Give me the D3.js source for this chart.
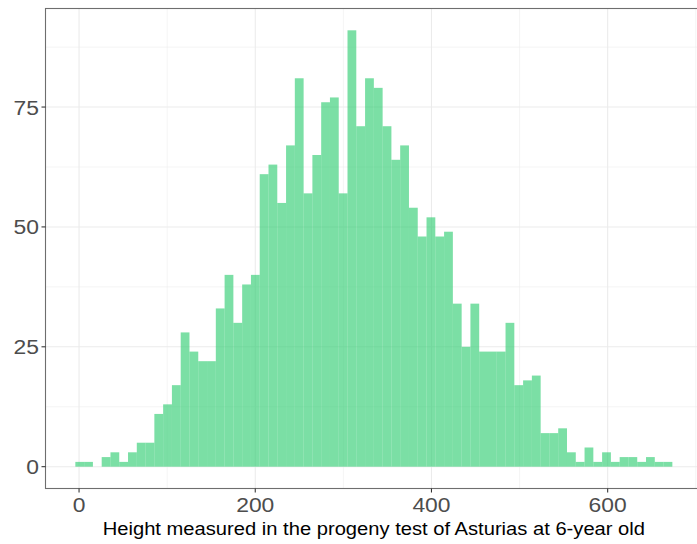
<!DOCTYPE html>
<html>
<head>
<meta charset="utf-8">
<script src="https://cdn.jsdelivr.net/npm/d3@7"></script>
<style>
  html, body { margin: 0; padding: 0; background: #ffffff; }
  svg { display: block; }
  text { font-family: "Liberation Sans", Arial, Helvetica, sans-serif; }
</style>
</head>
<body>
<svg id="chart" width="697" height="544"></svg>
<script>
// ---- data ----
const binStart = -4.2;
const binWidth = 9.965;
const counts = [1, 1, 0, 2, 3, 1, 3, 5, 5, 11,
                13, 17, 28, 24, 22, 22, 33, 40, 30, 38,
                40, 61, 63, 55, 67, 81, 57, 65, 76, 77,
                57, 91, 71, 81, 79, 71, 64, 67, 54, 48,
                52, 48, 49, 34, 25, 34, 24, 24, 24, 30,
                17, 18, 19, 7, 7, 8, 3, 1, 4, 1,
                3, 1, 2, 2, 1, 2, 1, 1];
const xTicks = [0, 200, 400, 600];
const xMinor = [100, 300, 500, 700];
const yTicks = [0, 25, 50, 75];
const yMinor = [12.5, 37.5, 62.5, 87.5];
const xTitle = "Height measured in the progeny test of Asturias at 6-year old";

const bins = counts.map((c, i) => ({
  x0: binStart + i * binWidth,
  x1: binStart + (i + 1) * binWidth,
  count: c
}));

// ---- layout ----
const svg = d3.select("#chart");
const panel = { left: 45.5, right: 702.2, top: 8.5, bottom: 488.5 };
const stretch = 1.09; // horizontal text stretch seen in the reference

const dataMin = d3.min(bins, d => d.x0);
const dataMax = d3.max(bins, d => d.x1);
const xPad = (dataMax - dataMin) * 0.05;
const x = d3.scaleLinear()
  .domain([dataMin - xPad, dataMax + xPad])
  .range([panel.left, panel.right]);

const yMax = d3.max(counts);
const yPad = yMax * 0.05;
const y = d3.scaleLinear()
  .domain([-yPad, yMax + yPad])
  .range([panel.bottom, panel.top]);

svg.append("rect").attr("width", 697).attr("height", 544).attr("fill", "#ffffff");

const clipId = "panelClip";
svg.append("clipPath").attr("id", clipId)
  .append("rect")
  .attr("x", panel.left).attr("y", panel.top)
  .attr("width", panel.right - panel.left).attr("height", panel.bottom - panel.top);

const g = svg.append("g").attr("clip-path", `url(#${clipId})`);

// minor grid
g.selectAll("line.ymin").data(yMinor).enter().append("line")
  .attr("x1", panel.left).attr("x2", panel.right)
  .attr("y1", d => y(d)).attr("y2", d => y(d))
  .attr("stroke", "#ebebeb").attr("stroke-width", 0.55);
g.selectAll("line.xmin").data(xMinor).enter().append("line")
  .attr("y1", panel.top).attr("y2", panel.bottom)
  .attr("x1", d => x(d)).attr("x2", d => x(d))
  .attr("stroke", "#ebebeb").attr("stroke-width", 0.55);
// major grid
g.selectAll("line.ymaj").data(yTicks).enter().append("line")
  .attr("x1", panel.left).attr("x2", panel.right)
  .attr("y1", d => y(d)).attr("y2", d => y(d))
  .attr("stroke", "#ebebeb").attr("stroke-width", 1.07);
g.selectAll("line.xmaj").data(xTicks).enter().append("line")
  .attr("y1", panel.top).attr("y2", panel.bottom)
  .attr("x1", d => x(d)).attr("x2", d => x(d))
  .attr("stroke", "#ebebeb").attr("stroke-width", 1.07);

// bars
g.selectAll("rect.bar").data(bins.filter(d => d.count > 0)).enter().append("rect")
  .attr("class", "bar")
  .attr("x", d => x(d.x0))
  .attr("width", d => x(d.x1) - x(d.x0))
  .attr("y", d => y(d.count))
  .attr("height", d => y(0) - y(d.count))
  .attr("fill", "#2ecc71")
  .attr("fill-opacity", 0.63);

// panel border
svg.append("rect")
  .attr("x", panel.left).attr("y", panel.top)
  .attr("width", panel.right - panel.left).attr("height", panel.bottom - panel.top)
  .attr("fill", "none").attr("stroke", "#6e6e6e").attr("stroke-width", 1.1);

// y axis ticks & labels
const yAx = svg.append("g");
yAx.selectAll("line").data(yTicks).enter().append("line")
  .attr("x1", panel.left - 4).attr("x2", panel.left)
  .attr("y1", d => y(d)).attr("y2", d => y(d))
  .attr("stroke", "#333333").attr("stroke-width", 1.07);
yAx.selectAll("text").data(yTicks).enter().append("text")
  .attr("transform", d => `translate(${panel.left - 6.5},${y(d)}) scale(${stretch},1)`)
  .attr("dy", "0.36em")
  .attr("text-anchor", "end")
  .attr("font-size", 21)
  .attr("fill", "#4d4d4d")
  .text(d => d);

// x axis ticks & labels
const xAx = svg.append("g");
xAx.selectAll("line").data(xTicks).enter().append("line")
  .attr("y1", panel.bottom).attr("y2", panel.bottom + 4)
  .attr("x1", d => x(d)).attr("x2", d => x(d))
  .attr("stroke", "#333333").attr("stroke-width", 1.07);
xAx.selectAll("text").data(xTicks).enter().append("text")
  .attr("transform", d => `translate(${x(d)},512.3) scale(${stretch},1)`)
  .attr("text-anchor", "middle")
  .attr("font-size", 21)
  .attr("fill", "#4d4d4d")
  .text(d => d);

// x title
svg.append("text")
  .attr("transform", `translate(${(panel.left + panel.right) / 2},535) scale(${stretch},1)`)
  .attr("text-anchor", "middle")
  .attr("font-size", 18.5)
  .attr("fill", "#000000")
  .text(xTitle);
</script>
</body>
</html>
